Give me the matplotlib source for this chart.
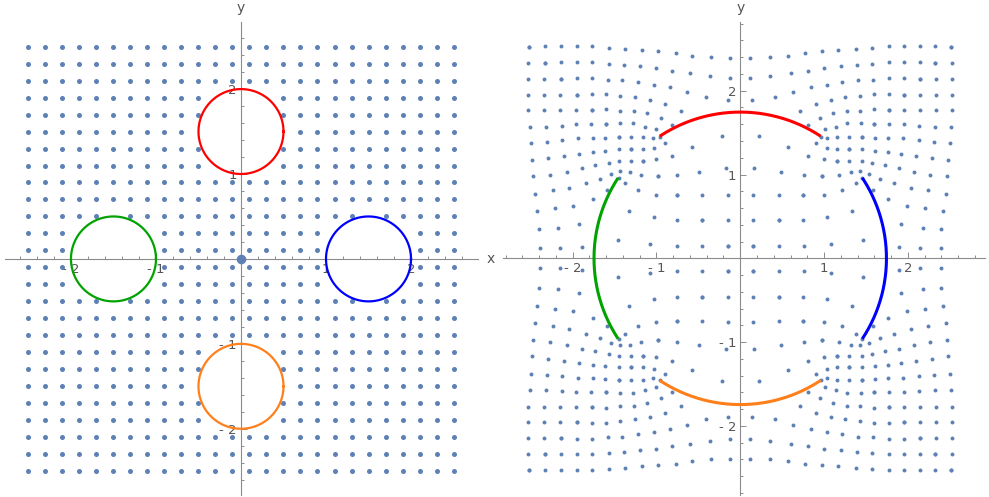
import numpy as np
import matplotlib
matplotlib.use("Agg")
import matplotlib.pyplot as plt
from matplotlib.ticker import FixedLocator

# lattice coordinates (same values on both axes)
grid_vals = [-2.5, -2.3, -2.1, -1.9, -1.7, -1.5, -1.3, -1.1, -0.9, -0.7, -0.5, -0.3, -0.1,
             0.1, 0.3, 0.5, 0.7, 0.9, 1.1, 1.3, 1.5, 1.7, 1.9, 2.1, 2.3, 2.5]

# circular obstacles
circle_cx = [0.0, 1.5, -1.5, 0.0]
circle_cy = [1.5, 0.0, 0.0, -1.5]
circle_r = 0.5
circle_colors = ["#FF0000", "#0000FF", "#00A300", "#FF7F1A"]

# their images: arcs on one common circle
arc_radius = 1.745
arc_mid_deg = [90, 0, 180, 270]
arc_half_deg = 33.4

# mapped lattice points in the sector 0 <= y <= x; the rest follow by symmetry
oct_x = [0.15, 0.46, 0.76, 1.08, 1.46, 1.89, 2.15, 2.39,
         0.46, 0.75, 1.03, 1.33, 1.92, 2.18, 2.40,
         0.75, 1.00, 1.22, 1.38, 1.45, 1.59, 1.76, 1.99, 2.21, 2.42,
         0.98, 1.18, 1.32, 1.43, 1.54, 1.67, 1.84, 2.04, 2.24, 2.45,
         1.16, 1.30, 1.45, 1.57, 1.73, 1.89, 2.07, 2.27, 2.47,
         1.30, 1.45, 1.61, 1.76, 1.92, 2.10, 2.29, 2.48,
         1.45, 1.61, 1.76, 1.94, 2.13, 2.31, 2.50,
         1.60, 1.78, 1.96, 2.13, 2.32, 2.51,
         1.77, 1.96, 2.15, 2.34, 2.53,
         1.95, 2.15, 2.34, 2.53,
         2.14, 2.34, 2.53,
         2.33, 2.53,
         2.52]
oct_y = [0.15, 0.15, 0.15, 0.17, 0.22, 0.14, 0.12, 0.12,
         0.46, 0.46, 0.49, 0.57, 0.41, 0.36, 0.35,
         0.75, 0.76, 0.81, 0.90, 0.96, 0.81, 0.71, 0.63, 0.60, 0.57,
         0.98, 1.00, 1.03, 1.04, 1.01, 0.95, 0.90, 0.84, 0.81, 0.77,
         1.16, 1.16, 1.16, 1.14, 1.11, 1.08, 1.03, 1.00, 0.98,
         1.30, 1.30, 1.28, 1.27, 1.25, 1.22, 1.20, 1.17,
         1.45, 1.44, 1.43, 1.43, 1.41, 1.39, 1.38,
         1.60, 1.60, 1.60, 1.58, 1.57, 1.57,
         1.77, 1.77, 1.77, 1.77, 1.77,
         1.95, 1.95, 1.95, 1.95,
         2.14, 2.14, 2.14,
         2.33, 2.33,
         2.52]

major_ticks = [-2, -1, 1, 2]
major_labels = ["- 2", "- 1", "1", "2"]

POINT = "#5E81B5"
AXIS = "#8C8C8C"
LABEL = "#555555"

W, H = 989, 497
fig = plt.figure(figsize=(W / 100, H / 100), dpi=100)


def px_axes(x0, x1, y0, y1):
    return fig.add_axes([x0 / W, 1 - y1 / H, (x1 - x0) / W, (y1 - y0) / H])


def style(ax, xlim, ylim):
    ax.set_xlim(*xlim)
    ax.set_ylim(*ylim)
    ax.set_aspect("auto")
    for s in ("top", "right"):
        ax.spines[s].set_visible(False)
    for s in ("left", "bottom"):
        ax.spines[s].set_position("zero")
        ax.spines[s].set_color(AXIS)
        ax.spines[s].set_linewidth(0.8)
        ax.spines[s].set_zorder(1)
    ax.xaxis.set_major_locator(FixedLocator(major_ticks))
    ax.yaxis.set_major_locator(FixedLocator(major_ticks))
    ax.set_xticklabels(major_labels)
    ax.set_yticklabels(major_labels)
    minors = [v for v in np.round(np.arange(-2.8, 2.81, 0.2), 1) if abs(v - round(v)) > 1e-6]
    ax.xaxis.set_minor_locator(FixedLocator(minors))
    ax.yaxis.set_minor_locator(FixedLocator(minors))
    ax.tick_params(which="both", direction="in", color=AXIS, width=0.7,
                   labelcolor=LABEL, labelsize=9.5)
    ax.tick_params(which="major", length=4.0, pad=3)
    ax.tick_params(which="minor", length=2.4)
    ax.patch.set_visible(False)
    ax.text(0, ylim[1] + 0.17, "y", ha="center", va="center", color=LABEL,
            fontsize=10, clip_on=False)


# ---------- left: lattice with circles ----------
axL = px_axes(5, 478, 22, 495)
style(axL, (-2.776, 2.788), (-2.78, 2.79))
axL.text(2.94, 0, "x", ha="center", va="center", color=LABEL, fontsize=10, clip_on=False)

gx, gy = np.meshgrid(grid_vals, grid_vals)
gx = gx.ravel()
gy = gy.ravel()
keep = np.ones_like(gx, dtype=bool)
for cx, cy in zip(circle_cx, circle_cy):
    keep &= np.hypot(gx - cx, gy - cy) > circle_r + 1e-6
axL.scatter(gx[keep], gy[keep], s=13, color=POINT, linewidths=0, zorder=3)
axL.scatter([0], [0], s=48, color=POINT, linewidths=0, zorder=3)

t = np.linspace(0, 2 * np.pi, 300)
for cx, cy, col in zip(circle_cx, circle_cy, circle_colors):
    axL.plot(cx + circle_r * np.cos(t), cy + circle_r * np.sin(t), color=col, lw=1.6, zorder=4)

# ---------- right: mapped lattice with arcs ----------
axR = px_axes(503, 985, 22, 495)
style(axR, (-2.831, 2.921), (-2.824, 2.820))

ox = np.array(oct_x)
oy = np.array(oct_y)
qx = np.concatenate([ox, oy])
qy = np.concatenate([oy, ox])
rx = np.concatenate([qx, -qx, -qx, qx])
ry = np.concatenate([qy, qy, -qy, -qy])
axR.scatter(rx, ry, s=8, color=POINT, linewidths=0, zorder=3)

for mid, col in zip(arc_mid_deg, circle_colors):
    a = np.radians(np.linspace(mid - arc_half_deg, mid + arc_half_deg, 200))
    axR.plot(arc_radius * np.cos(a), arc_radius * np.sin(a), color=col, lw=2.2,
             solid_capstyle="butt", zorder=4)

fig.savefig("out.png", dpi=100)
